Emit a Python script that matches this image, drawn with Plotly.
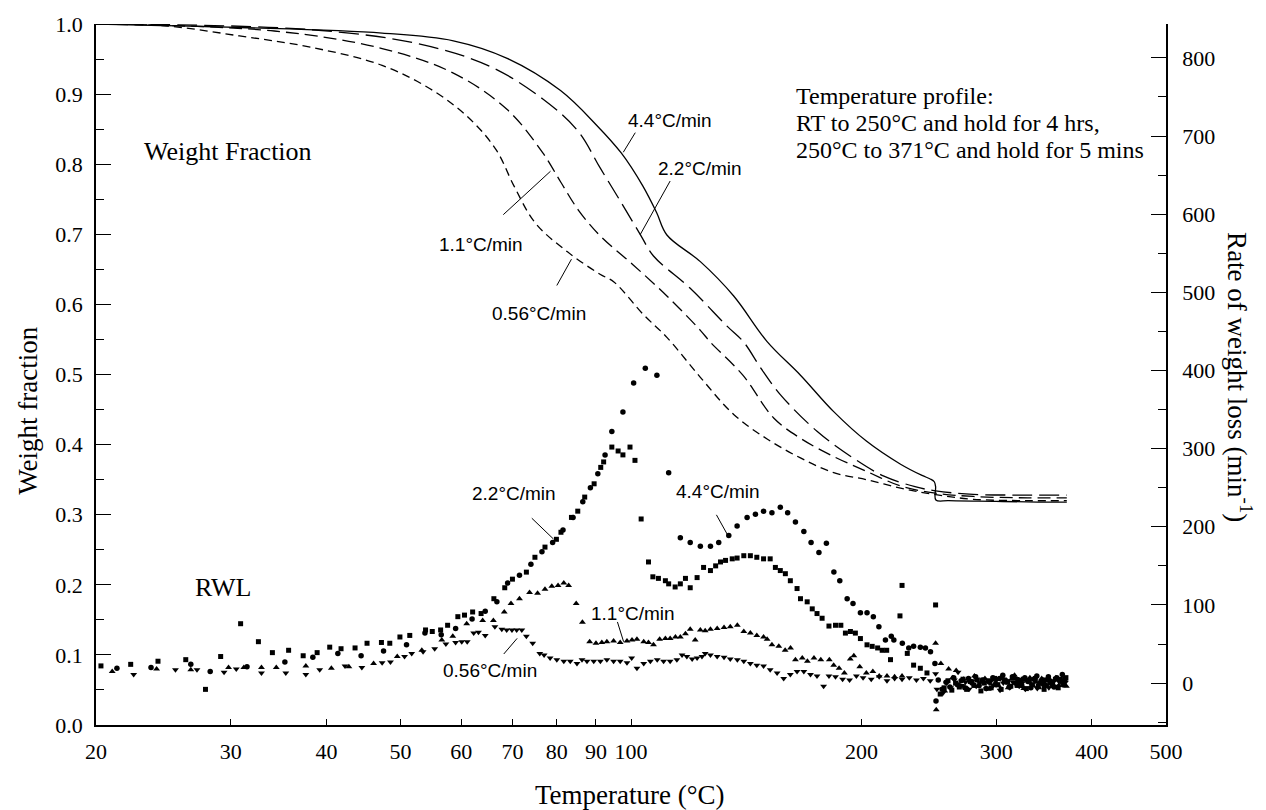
import numpy as np
import plotly.graph_objects as go

# ---------------- Weight fraction curves (left axis) ----------------
wf44_T = [20, 30.8, 47.3, 58.6, 68.9, 80.9, 90.1, 97.1, 103.6, 108, 111.4, 123.2, 136.2, 150.6,
          166.5, 184, 203, 225, 240, 246, 249, 250, 250.2, 260, 300, 340, 371]
wf44_V = [1.0, 0.995, 0.987, 0.976, 0.951, 0.905, 0.856, 0.816, 0.769, 0.731, 0.699, 0.661, 0.612, 0.547,
          0.499, 0.447, 0.405, 0.372, 0.356, 0.351, 0.347, 0.340, 0.321, 0.320, 0.319, 0.318, 0.318]

wf22_T = [20, 38.1, 52.6, 65.3, 76.7, 85.3, 91.1, 97.5, 102.8, 107, 119.5, 133.5, 140.4, 147.6,
          156.8, 175, 195, 214, 235, 250, 280, 330, 371]
wf22_V = [1.0, 0.992, 0.972, 0.940, 0.893, 0.847, 0.795, 0.742, 0.700, 0.669, 0.623, 0.569, 0.546, 0.510,
          0.471, 0.419, 0.381, 0.355, 0.340, 0.334, 0.329, 0.328, 0.328]

wf11_T = [20, 34.2, 47.3, 58.6, 68.9, 76.7, 80.9, 85.3, 91.1, 100.5, 111.4, 123.2, 127, 140,
          153.6, 166.5, 184, 203, 225, 248.6, 280, 330, 371]
wf11_V = [1.0, 0.990, 0.965, 0.930, 0.878, 0.816, 0.775, 0.735, 0.698, 0.657, 0.612, 0.563, 0.546, 0.499,
          0.438, 0.409, 0.383, 0.362, 0.341, 0.331, 0.326, 0.324, 0.324]

wf056_T = [20, 24.8, 30.8, 38.1, 47.3, 55.5, 61.8, 66.7, 70.4, 75, 82.6, 91.1, 95, 103.9, 111.4,
           123.2, 136.2, 150.6, 166.5, 184, 203, 225, 248.6, 280, 330, 371]
wf056_V = [1.0, 0.997, 0.983, 0.967, 0.941, 0.903, 0.863, 0.820, 0.768, 0.716, 0.675, 0.643, 0.632, 0.585, 0.553,
           0.496, 0.443, 0.408, 0.381, 0.360, 0.350, 0.338, 0.329, 0.322, 0.320, 0.320]

# ---------------- Rate of weight loss (right axis) ----------------
rwl44_T_main = [21.3, 23.6, 26.6, 28.2, 31.5, 35.3, 38.4, 41.4, 44.4, 47.5, 50.9, 53.8, 56.5, 59.0, 62.0, 64.5,
                66.8, 69.0, 71.5, 74.0, 76.5, 79.0, 81.5, 84.0, 86.5, 88.5, 90.5, 92.5, 94.4, 97.6, 100.8, 104.4,
                108.1, 112.0, 116.0, 119.5, 123.2, 127.0, 130.2, 134.2, 137.6, 141.8, 145.4, 149.0, 152.8, 156.7,
                160.2, 164.0, 168.2, 171.9, 176.0, 180.0, 184.1, 187.4, 191.6, 195.0, 199.4, 203.4, 207.3, 210.8,
                215.0, 218.8, 220.5, 226.2, 230.6, 234.0, 238.8, 242.5, 246.2, 249.5, 250.3]
rwl44_R_main = [19, 20, 24, 15, 21, 27, 33, 38, 35, 41, 49, 64, 62, 70, 82, 92,
                104, 128, 138, 152, 168, 180, 196, 212, 232, 250, 268, 292, 322, 347, 384, 403,
                394, 269, 186, 180, 175, 175, 180, 189, 201, 212, 216, 220, 218, 225,
                218, 206, 194, 180, 167, 179, 142, 131, 108, 102, 90, 90, 85, 72,
                55, 60, 55, 51, 45, 47, 46, 45, 40, 25, -23]
rwl44_T_hold = [252, 255, 258, 261, 264, 267, 270, 273, 276, 279, 282, 285, 288, 291, 294, 297, 300, 303, 306, 309,
                312, 315, 318, 321, 324, 327, 330, 333, 336, 339, 342, 345, 348, 351, 354, 357, 360, 363, 366, 369]
rwl44_R_hold = [4, -8, 1, -5, 7, -2, 3, -6, 6, 0, 8, -3, 4, -7, 1, 7, -2, 6, 10, 3,
                -5, 8, 0, 4, -3, 7, 2, -6, 5, 9, 0, 4, -3, 8, 1, -5, 7, 3, 11, 5]

rwl22_T_main = [20.3, 22.2, 24.1, 26.2, 27.8, 29.1, 30.9, 32.6, 34.0, 35.7, 37.3, 38.9, 40.4, 41.8, 43.6, 45.2,
                47.2, 48.4, 49.9, 51.4, 53.9, 55.0, 56.4, 57.6, 59.4, 60.6, 62.1, 63.7, 66.2, 68.4, 70.0, 73.0,
                74.9, 77.2, 79.9, 81.0, 83.6, 85.2, 87.0, 89.5, 91.3, 92.1, 94.4, 96.2, 97.6, 99.7, 101.2, 103.1,
                105.4, 106.8, 108.6, 110.9, 112.0, 114.2, 116.0, 117.8, 119.5, 122.0, 124.4, 127.0, 129.0, 130.9,
                132.9, 135.6, 137.6, 140.4, 143.2, 146.0, 149.0, 152.0, 154.4, 156.7, 159.1, 161.5, 164.8, 166.5,
                169.9, 172.5, 175.0, 177.7, 181.4, 185.0, 188.0, 190.6, 193.5, 196.4, 199.4, 203.4, 206.6, 210.0,
                212.9, 215.8, 218.3, 224.6, 226.0, 229.6, 234.0, 238.8, 243.6, 250.0]
rwl22_R_main = [22, 24, 28, 30, -8, 34, 76, 53, 39, 42, 35, 39, 46, 44, 45, 51,
                52, 51, 59, 61, 68, 66, 68, 74, 85, 87, 91, 89, 108, 122, 133, 142,
                161, 174, 184, 193, 212, 220, 238, 255, 276, 283, 302, 297, 292, 302, 285, 210,
                155, 136, 134, 131, 127, 123, 127, 134, 122, 135, 148, 144, 150, 155,
                157, 159, 160, 163, 163, 161, 159, 159, 148, 144, 140, 131, 121, 108,
                104, 95, 89, 83, 73, 74, 74, 64, 66, 64, 57, 49, 47, 45,
                42, 42, 30, 86, 125, 38, 23, 19, 13, 100]
rwl22_T_hold = [253.5, 256.5, 259.5, 262.5, 265.5, 268.5, 271.5, 274.5, 277.5, 280.5, 283.5, 286.5, 289.5, 292.5,
                295.5, 298.5, 301.5, 304.5, 307.5, 310.5, 313.5, 316.5, 319.5, 322.5, 325.5, 328.5, 331.5, 334.5,
                337.5, 340.5, 343.5, 346.5, 349.5, 352.5, 355.5, 358.5, 361.5, 364.5, 367.5, 370]
rwl22_R_hold = [-14, -6, 3, -9, 0, -5, 5, -8, 2, -3, 4, -10, 0, 3, -6, 6, -2, -8, 4, 1,
                -4, 7, -3, 0, 5, -7, 3, -2, 6, -4, 1, -8, 4, 0, -3, 5, -6, 3, -2, 7]

rwl11_T_main = [21.0, 24.0, 26.6, 29.8, 31.2, 32.9, 34.4, 37.6, 40.6, 42.8, 46.1, 49.5, 53.3, 56.6, 58.5, 61.0,
                64.0, 66.1, 68.3, 69.7, 71.5, 73.7, 75.5, 77.2, 78.8, 80.3, 81.7, 82.9, 84.8, 86.4, 88.3, 90.0,
                91.6, 93.0, 94.9, 96.8, 98.8, 100.3, 101.8, 103.9, 105.4, 107.0, 109.0, 110.9, 112.5, 114.3, 116.0,
                117.8, 119.5, 121.3, 123.2, 125.0, 127.0, 129.6, 132.3, 134.8, 137.7, 140.4, 143.2, 146.0, 149.0,
                150.6, 152.8, 156.0, 159.0, 161.6, 164.0, 167.4, 170.0, 173.4, 177.0, 181.6, 184.0, 187.0, 190.0,
                193.4, 195.5, 199.0, 203.0, 207.0, 211.0, 216.0, 221.0, 226.0, 250.0, 250.5]
rwl11_R_main = [15, 18, 17, 20, 20, 20, 20, 22, 19, 21, 25, 34, 42, 55, 60, 76,
                80, 80, 91, 102, 108, 116, 115, 120, 124, 125, 128, 125, 102, 78, 53, 51,
                52, 53, 54, 52, 54, 55, 56, 53, 52, 49, 56, 57, 57, 59, 59,
                63, 69, 55, 68, 67, 69, 70, 71, 72, 74, 66, 64, 61, 59,
                56, 49, 47, 42, 45, 30, 32, 28, 32, 30, 30, 23, 19, 13,
                31, 35, 21, 13, 15, 9, 9, 8, 9, 51, -34]
rwl11_T_hold = [254, 257, 260, 263, 266, 269, 272, 275, 278, 281, 284, 287, 290, 293, 296, 299, 302, 305, 308, 311,
                314, 317, 320, 323, 326, 329, 332, 335, 338, 341, 344, 347, 350, 353, 356, 359, 362, 365, 368, 370.5]
rwl11_R_hold = [25, -10, 18, 7, 16, -3, 5, -7, 2, 9, -4, 1, 6, -8, 4, 0, -3, 8, 1, -6,
                5, 10, -2, 3, -7, 4, 7, -3, 1, -6, 6, 0, -4, 4, -2, 7, -3, 1, 5, -4]

rwl056_T_main = [22.4, 25.4, 27.1, 29.4, 30.5, 32.9, 35.4, 37.6, 39.2, 42.3, 44.5, 47.3, 48.5, 50.6, 51.7, 53.5,
                 55.4, 57.3, 59.0, 60.1, 61.1, 62.3, 63.2, 64.5, 66.4, 67.8, 68.8, 69.9, 70.9, 72.0, 73.0, 74.4,
                 76.0, 77.0, 78.4, 80.0, 81.7, 83.3, 85.0, 86.3, 87.6, 89.4, 91.2, 93.0, 94.9, 96.8, 98.8, 100.2,
                 101.8, 103.9, 106.0, 108.2, 110.3, 112.5, 114.8, 116.6, 118.3, 120.2, 122.0, 123.8, 125.0, 127.0,
                 129.6, 132.3, 134.8, 137.7, 140.4, 143.2, 146.0, 149.0, 152.0, 155.2, 158.3, 161.5, 164.8, 168.2,
                 171.6, 175.0, 178.5, 181.4, 185.0, 189.0, 193.0, 197.0, 201.0, 206.0, 211.0, 216.0, 221.0, 226.0,
                 231.0, 236.0, 241.0, 246.0, 250.0]
rwl056_R_main = [11, 17, 17, 14, 18, 13, 13, 11, 17, 22, 20, 26, 27, 34, 38, 40,
                 44, 50, 52, 53, 53, 64, 65, 61, 72, 69, 68, 68, 68, 68, 60, 51,
                 38, 36, 32, 30, 28, 28, 25, 30, 28, 28, 28, 30, 28, 28, 26, 32,
                 19, 25, 28, 30, 28, 28, 30, 36, 34, 31, 32, 34, 38, 36,
                 34, 33, 31, 30, 28, 25, 23, 22, 17, 13, 6, 11, 15, 15,
                 11, 9, -4, 9, 8, 5, 4, 9, 7, 5, 8, 3, 6, 5,
                 7, 4, 6, 3, 12]
rwl056_T_hold = [251, 255.5, 258.5, 261.5, 264.5, 267.5, 270.5, 273.5, 276.5, 279.5, 282.5, 285.5, 288.5, 291.5,
                 294.5, 297.5, 300.5, 303.5, 306.5, 309.5, 312.5, 315.5, 318.5, 321.5, 324.5, 327.5, 330.5, 333.5,
                 336.5, 339.5, 342.5, 345.5, 348.5, 351.5, 354.5, 357.5, 360.5, 363.5, 366.5, 369.5]
rwl056_R_hold = [-8, -13, 0, -6, 4, 14, -3, 1, -8, 3, -4, 0, 5, -7, 1, -3, 4, -9, 0, 3,
                 -6, 1, 6, -4, 0, -8, 3, -2, 4, -7, 1, -3, 5, -6, 0, 3, -4, 6, -2, 1]

# ---------------- Axis ticks ----------------
x_tickvals = [20, 30, 40, 50, 60, 70, 80, 90, 100, 200, 300, 400, 500]
y_tickvals = [0.0, 0.1, 0.2, 0.3, 0.4, 0.5, 0.6, 0.7, 0.8, 0.9, 1.0]
y2_tickvals = [0, 100, 200, 300, 400, 500, 600, 700, 800]

SERIF = "Liberation Serif, Times New Roman, serif"
SANS = "Liberation Sans, Arial, sans-serif"

fig = go.Figure()

curve_styles = [
    (wf44_T, wf44_V, "solid"),
    (wf22_T, wf22_V, "20px,7px"),
    (wf11_T, wf11_V, "13px,6px"),
    (wf056_T, wf056_V, "8px,5px"),
]
for T, V, dash in curve_styles:
    fig.add_trace(go.Scatter(x=T, y=V, mode="lines", yaxis="y",
                             line=dict(color="black", width=1.3, dash=dash,
                                       shape="spline", smoothing=1.0),
                             hoverinfo="skip", showlegend=False))

marker_styles = [
    (rwl44_T_main + rwl44_T_hold, rwl44_R_main + rwl44_R_hold, "circle", 5.5),
    (rwl22_T_main + rwl22_T_hold, rwl22_R_main + rwl22_R_hold, "square", 5),
    (rwl11_T_main + rwl11_T_hold, rwl11_R_main + rwl11_R_hold, "triangle-up", 6),
    (rwl056_T_main + rwl056_T_hold, rwl056_R_main + rwl056_R_hold, "triangle-down", 6),
]
for T, R, sym, sz in marker_styles:
    fig.add_trace(go.Scatter(x=T, y=R, mode="markers", yaxis="y2",
                             marker=dict(symbol=sym, size=sz, color="black", line=dict(width=0)),
                             hoverinfo="skip", showlegend=False))

# ---------------- Labels with leader lines ----------------
# (label text, text T, text V, leader T0, V0, T1, V1)
labels = [
    ("4.4°C/min", 112.5, 0.8625, 101.3, 0.845, 97.7, 0.817),
    ("2.2°C/min", 123.2, 0.794, 112.5, 0.776, 102.8, 0.6995),
    ("1.1°C/min", 63.7, 0.686, 68.1, 0.728, 78.5, 0.790),
    ("0.56°C/min", 75.9, 0.5865, 80.0, 0.627, 83.6, 0.6645),
    ("2.2°C/min", 70.4, 0.3296, 74.2, 0.295, 79.2, 0.2653),
    ("4.4°C/min", 129.9, 0.3324, 129.3, 0.2998, 133.9, 0.270),
    ("1.1°C/min", 100.5, 0.1595, 96.0, 0.147, 97.8, 0.1188),
    ("0.56°C/min", 65.4, 0.0773, 68.2, 0.1013, 71.0, 0.1236),
]
annotations = []
for text, tx, ty, x0, y0, x1, y1 in labels:
    fig.add_trace(go.Scatter(x=[x0, x1], y=[y0, y1], mode="lines", yaxis="y",
                             line=dict(color="black", width=1), hoverinfo="skip", showlegend=False))
    annotations.append(dict(text=text, x=np.log10(tx), y=ty, xref="x", yref="y",
                            showarrow=False, xanchor="center", yanchor="middle",
                            font=dict(family=SANS, size=19, color="black")))

annotations += [
    dict(text="Weight Fraction", x=np.log10(23.0), y=0.818, xref="x", yref="y", showarrow=False,
         xanchor="left", yanchor="middle", font=dict(family=SERIF, size=26, color="black")),
    dict(text="RWL", x=np.log10(26.8), y=0.1967, xref="x", yref="y", showarrow=False,
         xanchor="left", yanchor="middle", font=dict(family=SERIF, size=26, color="black")),
    dict(text="Temperature profile:", x=np.log10(163.5), y=0.8966, xref="x", yref="y", showarrow=False,
         xanchor="left", yanchor="middle", font=dict(family=SERIF, size=24, color="black")),
    dict(text="RT to 250°C and hold for 4 hrs,", x=np.log10(163.5), y=0.8582, xref="x", yref="y",
         showarrow=False, xanchor="left", yanchor="middle", font=dict(family=SERIF, size=24, color="black")),
    dict(text="250°C to 371°C and hold for 5 mins", x=np.log10(163.5), y=0.8204, xref="x", yref="y",
         showarrow=False, xanchor="left", yanchor="middle", font=dict(family=SERIF, size=24, color="black")),
    dict(text="Temperature (°C)", x=0.499, y=-0.0993, xref="paper", yref="paper", showarrow=False,
         xanchor="center", yanchor="middle", font=dict(family=SERIF, size=27, color="black")),
    dict(text="Weight fraction", x=-0.0636, y=0.4496, xref="paper", yref="paper", showarrow=False,
         textangle=-90, xanchor="center", yanchor="middle", font=dict(family=SERIF, size=27, color="black")),
    dict(text="Rate of weight loss (min<sup>-1</sup>)", x=1.069, y=0.4965, xref="paper", yref="paper",
         showarrow=False, textangle=90, xanchor="center", yanchor="middle",
         font=dict(family=SERIF, size=27, color="black")),
]

fig.update_layout(
    width=1266, height=810,
    margin=dict(l=96, r=100, t=20, b=85),
    paper_bgcolor="white", plot_bgcolor="white",
    font=dict(family=SERIF, size=22, color="black"),
    showlegend=False,
    annotations=annotations,
    xaxis=dict(type="log", range=[np.log10(20), np.log10(500)],
               tickvals=x_tickvals, ticktext=[str(v) for v in x_tickvals],
               ticks="inside", ticklen=6, tickwidth=1, tickcolor="black",
               showline=True, linecolor="black", linewidth=1.5, mirror=False,
               showgrid=False, zeroline=False, ticklabelstandoff=6,
               tickfont=dict(family=SERIF, size=22, color="black")),
    yaxis=dict(range=[0, 1.0], tickvals=y_tickvals, ticktext=[f"{v:.1f}" for v in y_tickvals],
               ticks="inside", ticklen=15, tickwidth=1, tickcolor="black",
               minor=dict(dtick=0.05, ticks="inside", ticklen=8, tickcolor="black", showgrid=False),
               showline=True, linecolor="black", linewidth=1.5,
               showgrid=False, zeroline=False, ticklabelstandoff=7,
               tickfont=dict(family=SERIF, size=22, color="black")),
    yaxis2=dict(overlaying="y", side="right", range=[-53.6, 843.3], tickvals=y2_tickvals,
                ticks="inside", ticklen=15, tickwidth=1, tickcolor="black",
                minor=dict(dtick=50, ticks="inside", ticklen=8, tickcolor="black", showgrid=False),
                showline=True, linecolor="black", linewidth=1.5,
                showgrid=False, zeroline=False, ticklabelstandoff=10,
                tickfont=dict(family=SERIF, size=22, color="black")),
)

fig.write_html("out.html")
